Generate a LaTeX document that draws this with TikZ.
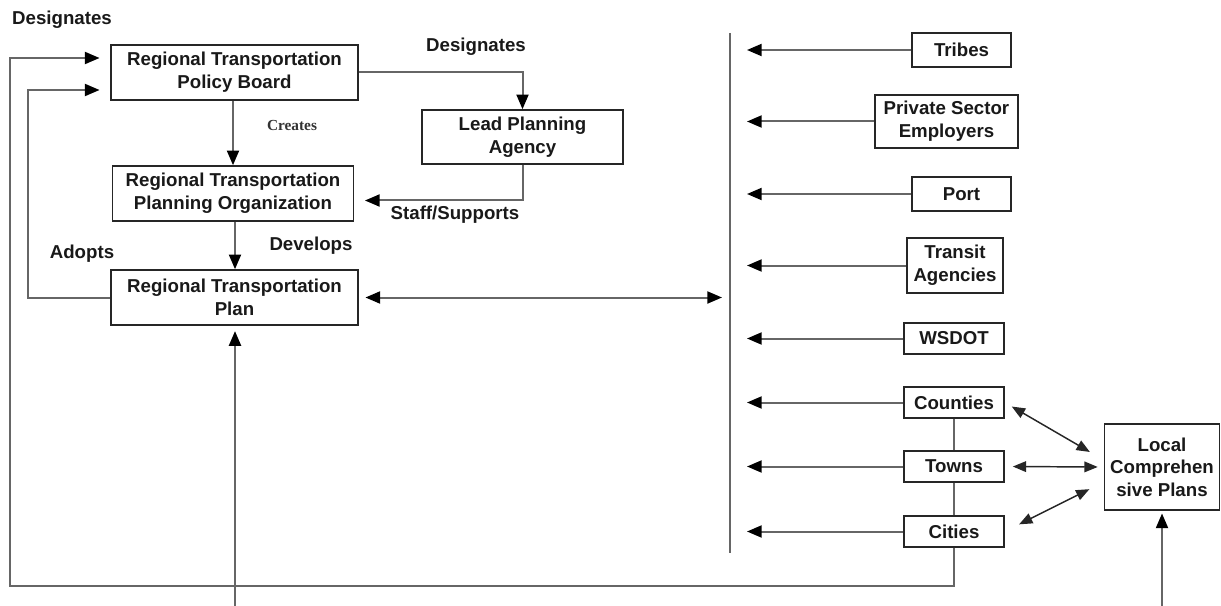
\documentclass[tikz,border=0pt]{standalone}
\usepackage{fontspec}
\setmainfont{Liberation Sans}
\newfontfamily\timesfont{Liberation Serif}
\usepackage{tikz}
\usetikzlibrary{arrows.meta,positioning,calc}

\newcommand{\boxfont}{\bfseries\fontsize{14}{17}\selectfont}

\begin{document}
\begin{tikzpicture}[x=0.75pt, y=-0.75pt,
          box/.style={draw=black!85, line width=1.2pt, fill=white,
                      align=center, inner sep=0pt, font=\boxfont,
                      text=black!90},
          wh/.style 2 args={minimum width=#1*0.75pt, minimum height=#2*0.75pt},
          lbl/.style={font=\boxfont, inner sep=0pt, text=black!90},
          line/.style={draw=black!60, line width=1.5pt},
          arr/.style={line, -{Triangle[length=11pt, width=9pt, color=black]}},
          dblarr/.style={draw=black!85, line width=1.1pt,
                      {Triangle[length=10pt, width=8pt]}-{Triangle[length=10pt, width=8pt]}}
        ]
          \useasboundingbox (0,0) rectangle (1221,606);

          % left side: the regional bodies
          \node[box, wh={247}{55}] (rtpb) at (234.5,72.5) {Regional Transportation\\Policy Board};
          \node[box, wh={241}{55}] (rtpo) at (233,193.5) {Regional Transportation\\Planning Organization};
          \node[box, wh={247}{55}] (rtp)  at (234.5,297.5) {Regional Transportation\\Plan};
          \node[box, wh={201}{54}] (lpa)  at (522.5,137) {Lead Planning\\Agency};

          % right side: partners
          \node[box, wh={99}{34}]  (tribes)   at (961.5,50)    {Tribes};
          \node[box, wh={143}{53}] (pse)      at (946.5,121.5) {Private Sector\\Employers};
          \node[box, wh={99}{34}]  (port)     at (961.5,194)   {Port};
          \node[box, wh={96}{55}]  (transit)  at (955,265.5)   {Transit\\Agencies};
          \node[box, wh={100}{31}] (wsdot)    at (954,338.5)   {WSDOT};
          \node[box, wh={100}{31}] (counties) at (954,402.5)   {Counties};
          \node[box, wh={100}{31}] (towns)    at (954,466.5)   {Towns};
          \node[box, wh={100}{31}] (cities)   at (954,531.5)   {Cities};
          \node[box, wh={115}{86}] (lcp)      at (1162,467)    {Local\\Comprehen\\sive Plans};

          % labels
          \node[lbl] (desigA)  at (62,20)   {Designates};
          \node[lbl] (desigB)  at (476,47)  {Designates};
          \node[inner sep=0pt, font=\timesfont\bfseries\fontsize{11.5}{13}\selectfont,
                text=black!80] (creates) at (292,126) {Creates};
          \node[lbl] (staff)   at (455,215) {Staff/Supports};
          \node[lbl] (develop) at (311,246) {Develops};
          \node[lbl] (adopt)   at (82,254)  {Adopts};

          % the divider and the open ends at the bottom
          \coordinate (bartop) at (730,33);
          \coordinate (barbot) at (730,553);
          \coordinate (rtpin)  at (235,606);
          \coordinate (lcpin)  at (1162,606);
          \draw[line] (bartop) -- (barbot);

          % connectors
          \draw[arr] (rtpb.east) -| (lpa.north);
          \draw[arr] (rtpo.north |- rtpb.south) -- (rtpo.north);
          \draw[arr] (rtpo.south -| rtpin) -- (rtp.north -| rtpin);
          \draw[arr, shorten >=8pt] (lpa.south) |- ($(rtpo.east)+(0,7)$);
          \draw[arr, shorten >=8pt] (rtp.west) -| (28,90) -- ($(rtpb.west)+(0,17.5)$);
          \draw[arr, shorten >=8pt] (cities.south) |- (10,586) |- ($(rtpb.west)+(0,-14.5)$);
          \draw[line, {Triangle[length=11pt, width=9pt, color=black]}-{Triangle[length=11pt, width=9pt, color=black]},
                shorten <=5pt, shorten >=6pt] (rtp.east) -- (rtp.east -| bartop);
          \draw[arr, shorten >=4pt] (rtpin) -- (rtpin |- rtp.south);
          \draw[arr, shorten >=2pt] (lcpin) -- (lcp.south);
          \foreach \n in {tribes,pse,port,transit,wsdot,counties,towns,cities}
            \draw[arr, shorten >=12.75pt] (\n.west) -- (\n.west -| bartop);
          \draw[line] (counties.south) -- (towns.north);
          \draw[line] (towns.south) -- (cities.north);
          \draw[dblarr, shorten <=6pt, shorten >=12pt] (counties.east) -- ($(lcp.west)+(0,-7)$);
          \draw[dblarr, shorten <=6pt, shorten >=4.5pt] (towns.east) -- (lcp.west);
          \draw[dblarr, shorten <=12pt, shorten >=12pt] (cities.east) -- ($(lcp.west)+(0,15)$);
        \end{tikzpicture}
\end{document}
